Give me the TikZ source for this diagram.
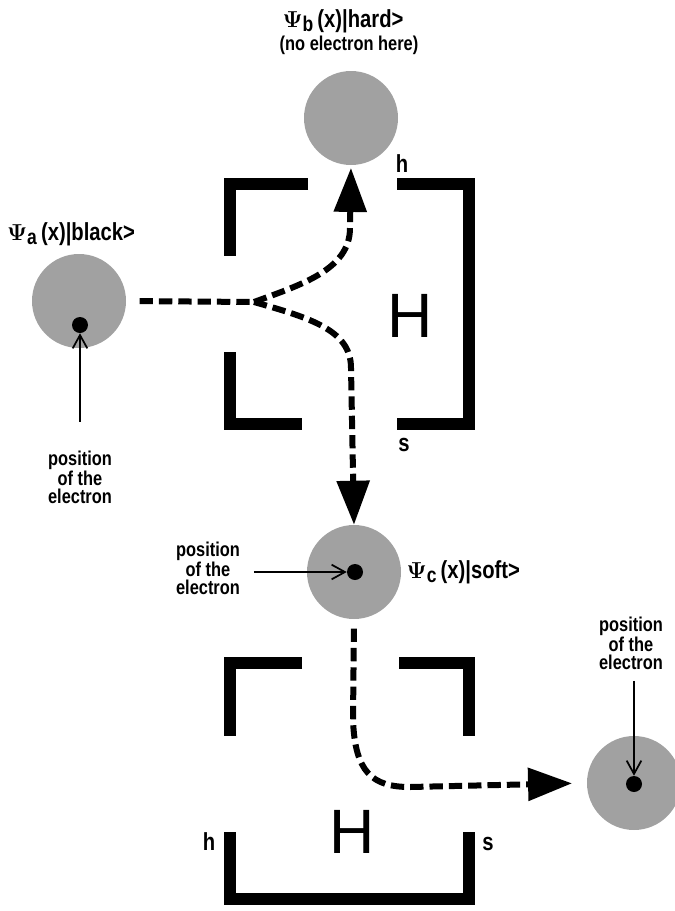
\documentclass[tikz,border=0pt]{standalone}
\usepackage[no-math]{fontspec}
\setmainfont{Liberation Sans}
\newfontfamily\narrowsans[FakeStretch=0.82]{Liberation Sans}
\usetikzlibrary{arrows.meta}

\newcommand{\wave}[1]{$\mathbf{\Psi}$\raisebox{-3.5pt}{\fontsize{16}{16}\selectfont #1}\,}

\begin{document}
\begin{tikzpicture}[
    x=0.75pt, y=-0.75pt,
    blob/.style={circle, fill=black!37, minimum size=70.5pt, inner sep=0pt}, % wave packets
    spot/.style={circle, fill=black, minimum size=12pt, inner sep=0pt},
    wall/.style={line width=9pt},
    trail/.style={line width=4.5pt, dash pattern=on 10pt off 4.5pt},
    headed/.style={-{Triangle[length=33pt,width=24pt]}},
    pointer/.style={line width=1.3pt, -{Straight Barb[length=10pt,width=11pt]}},
    note/.style={align=center, font=\narrowsans\bfseries\fontsize{15}{13.6}\selectfont},
    ket/.style={anchor=base, font=\narrowsans\bfseries\fontsize{18.5}{20}\selectfont},
    port/.style={anchor=base, font=\narrowsans\bfseries\fontsize{18.5}{20}\selectfont},
    big/.style={font=\fontsize{47}{50}\selectfont}
    ]
\useasboundingbox (0,0) rectangle (675,911);

% packets and electrons
\node[blob] (qa) at (79,301) {};
\node[blob] (qb) at (351,118) {};
\node[blob] (qc) at (354,572) {};
\node[blob] (qd) at (634,783) {};
\node[spot] (ea) at (80,325) {};
\node[spot] (ec) at (355,572) {};
\node[spot] (ed) at (634,784) {};

\node[ket] (ka) at (71,240) {\wave{a}(x)|black>};
\node[ket] (kb) at (343,27) {\wave{b}(x)|hard>};
\node[note] (nb) at (349,45) {(no electron here)};
\node[ket, anchor=base west] (kc) at (402,578) {\wave{c}(x)|soft>};

% first box
\draw[wall] (308,184) -- (230,184) -- (230,256);
\draw[wall] (230,352) -- (230,424) -- (302,424);
\draw[wall] (397,184) -- (469,184) -- (469,424) -- (397,424);
\node[port] (h1) at (402,172) {h};
\node[port] (s1) at (404,451) {s};
\node[big] (H1) at (410,316) {H};

% second box
\draw[wall] (302,663) -- (230,663) -- (230,736);
\draw[wall] (399,663) -- (469,663) -- (469,736);
\draw[wall] (230,832) -- (230,899) -- (469,899) -- (469,832);
\node[port] (h2) at (209,850) {h};
\node[port] (s2) at (488,850) {s};
\node[big] (H2) at (352,832) {H};

% paths
\coordinate (fork) at (254,302);
\draw[trail, shorten <=10pt] (qa.east) -- (fork);
\draw[trail, headed, shorten >=2pt] (fork) .. controls (300,285) and (350,270) .. (350,228) -- (qb.south);
\draw[trail, headed] (fork) .. controls (310,318) and (351,330) .. (351,368) -- (qc.north);
\draw[trail, headed, shorten <=7pt, shorten >=11pt] (qc.south) -- (353,720) .. controls (355,772) and (372,787) .. (410,787) -- (qd.west);

% pointers
\node[note] (na) at (80,477) {position\\of the\\electron};
\node[note] (nc) at (208,568) {position\\of the\\electron};
\node[note] (nd) at (631,643) {position\\of the\\electron};
\draw[pointer, shorten <=18pt] (na.north -| ea) -- (ea.south);
\draw[pointer, shorten <=7pt] (nc.east |- ec) -- (ec.west);
\draw[pointer, shorten <=5pt] (nd.south -| ed) -- (ed.north);
\end{tikzpicture}
\end{document}
